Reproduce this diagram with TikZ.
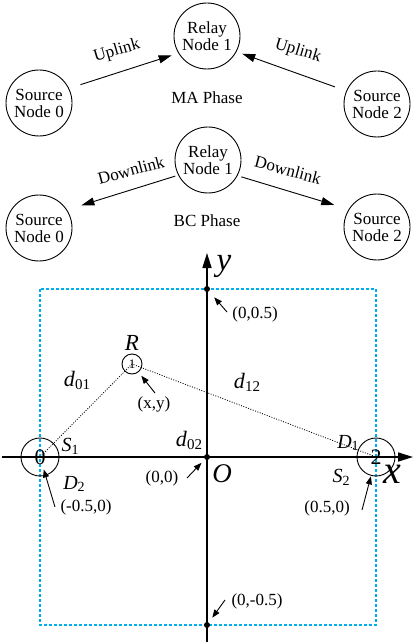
\documentclass[tikz,border=0pt]{standalone}
\usepackage{fontspec}
\setmainfont{Liberation Serif}
\usetikzlibrary{arrows.meta, positioning, calc}

\newcommand{\fsz}[1]{\fontsize{#1}{#1}\selectfont}
\newcommand{\varlab}[3]{\textit{#1}\raisebox{-0.3ex}{\fsz{#3}#2}}

\begin{document}
\begin{tikzpicture}[
    x=1pt, y=-1pt,
    bignode/.style={circle, draw, line width=0.9pt, minimum size=66pt, inner sep=0pt, align=center, font=\fsz{17}},
    lbl/.style={font=\fsz{17}, inner sep=0pt},
    arr/.style={-{Triangle[length=13pt, width=8pt]}, line width=0.9pt},
    axis/.style={-{Triangle[length=15pt, width=9pt]}, line width=1.6pt},
    ptr/.style={-{Triangle[length=8pt, width=6pt]}, line width=0.9pt},
    dot/.style={circle, fill, minimum size=6pt, inner sep=0pt},
    place/.style={circle, draw, line width=0.9pt, inner sep=0pt, font=\fsz{22}},
    sym/.style={inner sep=0pt},
    area/.style={draw=cyan, line width=1.4pt, dash pattern=on 3pt off 2pt},
    link/.style={line width=0.8pt, dash pattern=on 1pt off 1.5pt},
]
\useasboundingbox (0,0) rectangle (415,644);

% MA phase
\node[bignode] (relayA) at (207,36) {Relay\\Node 1};
\node[bignode] (srcA0) at (39,103) {Source\\Node 0};
\node[bignode] (srcA2) at (377,104) {Source\\Node 2};
\node[lbl] (phaseA) at (207,98) {MA Phase};
\node[lbl, rotate=16] (upA0) at (117,51) {Uplink};
\node[lbl, rotate=-17] (upA2) at (298,51) {Uplink};
\draw[arr, shorten <=12pt, shorten >=7pt] (srcA0.26) -- (relayA.211);
\draw[arr, shorten <=12pt, shorten >=6pt] (srcA2.157) -- (relayA.-28);

% BC phase
\node[bignode] (relayB) at (208,160) {Relay\\Node 1};
\node[bignode] (srcB0) at (39,228) {Source\\Node 0};
\node[bignode] (srcB2) at (377,227) {Source\\Node 2};
\node[lbl] (phaseB) at (207,221) {BC Phase};
\node[lbl, rotate=15] (dnB0) at (131,170) {Downlink};
\node[lbl, rotate=-15] (dnB2) at (288,170) {Downlink};
\draw[arr, shorten <=3pt, shorten >=15pt] (relayB.207) -- (srcB0.33);
\draw[arr, shorten <=4pt, shorten >=15pt] (relayB.-28) -- (srcB2.148);

% coordinate plane
\coordinate (xstart) at (2,457);
\coordinate (xend) at (413,457);
\coordinate (ystart) at (207,642);
\coordinate (yend) at (207,253);
\draw[area] (40,289) rectangle (376,625);
\draw[axis] (xstart) -- (xend);
\draw[axis] (ystart) -- (yend);

\node[place, minimum size=38pt] (n0) at (40,457) {0};
\node[place, minimum size=38pt] (n2) at (376,457) {2};
\node[place, minimum size=20pt, font=\fsz{13}] (nR) at (132,364) {1};
\draw[link] (n0.center) -- (nR.center) -- (n2.center);

\node[dot] (pN) at (207,289) {};
\node[dot] (pO) at (207,457) {};
\node[dot] (pS) at (207,625) {};

\node[lbl] (tN) at (255,314) {(0,0.5)};
\node[lbl] (tO) at (162,478) {(0,0)};
\node[lbl] (tS) at (257,601) {(0,-0.5)};
\node[lbl] (tW) at (86,507) {(-0.5,0)};
\node[lbl] (tE) at (327,508) {(0.5,0)};
\node[lbl] (tR) at (154,404) {(x,y)};

\coordinate (aN) at (227,312);
\coordinate (aO) at (187,478);
\coordinate (aS) at (225,600);
\coordinate (aW) at (55,507);
\coordinate (aE) at (362,510);
\coordinate (aR) at (155,393);
\foreach \a/\b/\s in {aN/pN/11, aO/pO/8, aS/pS/9, aW/n0/13, aE/n2/20, aR/nR/15}
    \draw[ptr, shorten >=\s pt] (\a) -- (\b.center);

% symbols
\node[sym, font=\fsz{23}\itshape] (lR) at (132,343) {R};
\node[sym, font=\fsz{33}\itshape] (ly) at (224,266) {y};
\node[sym, font=\fsz{40}\itshape] (lx) at (392,474) {x};
\node[sym, font=\fsz{27}\itshape] (lO) at (222,474) {O};
\node[sym, font=\fsz{22}] (d01) at (77,380) {\varlab{d}{01}{15}};
\node[sym, font=\fsz{22}] (d12) at (247,382) {\varlab{d}{12}{15}};
\node[sym, font=\fsz{22}] (d02) at (189,440) {\varlab{d}{02}{15}};
\node[sym, font=\fsz{20}] (s1) at (70,446) {\varlab{S}{1}{14}};
\node[sym, font=\fsz{20}] (dd2) at (74,484) {\varlab{D}{2}{14}};
\node[sym, font=\fsz{20}] (dd1) at (348,443) {\varlab{D}{1}{14}};
\node[sym, font=\fsz{20}] (s2) at (341,477) {\varlab{S}{2}{14}};

\end{tikzpicture}
\end{document}
